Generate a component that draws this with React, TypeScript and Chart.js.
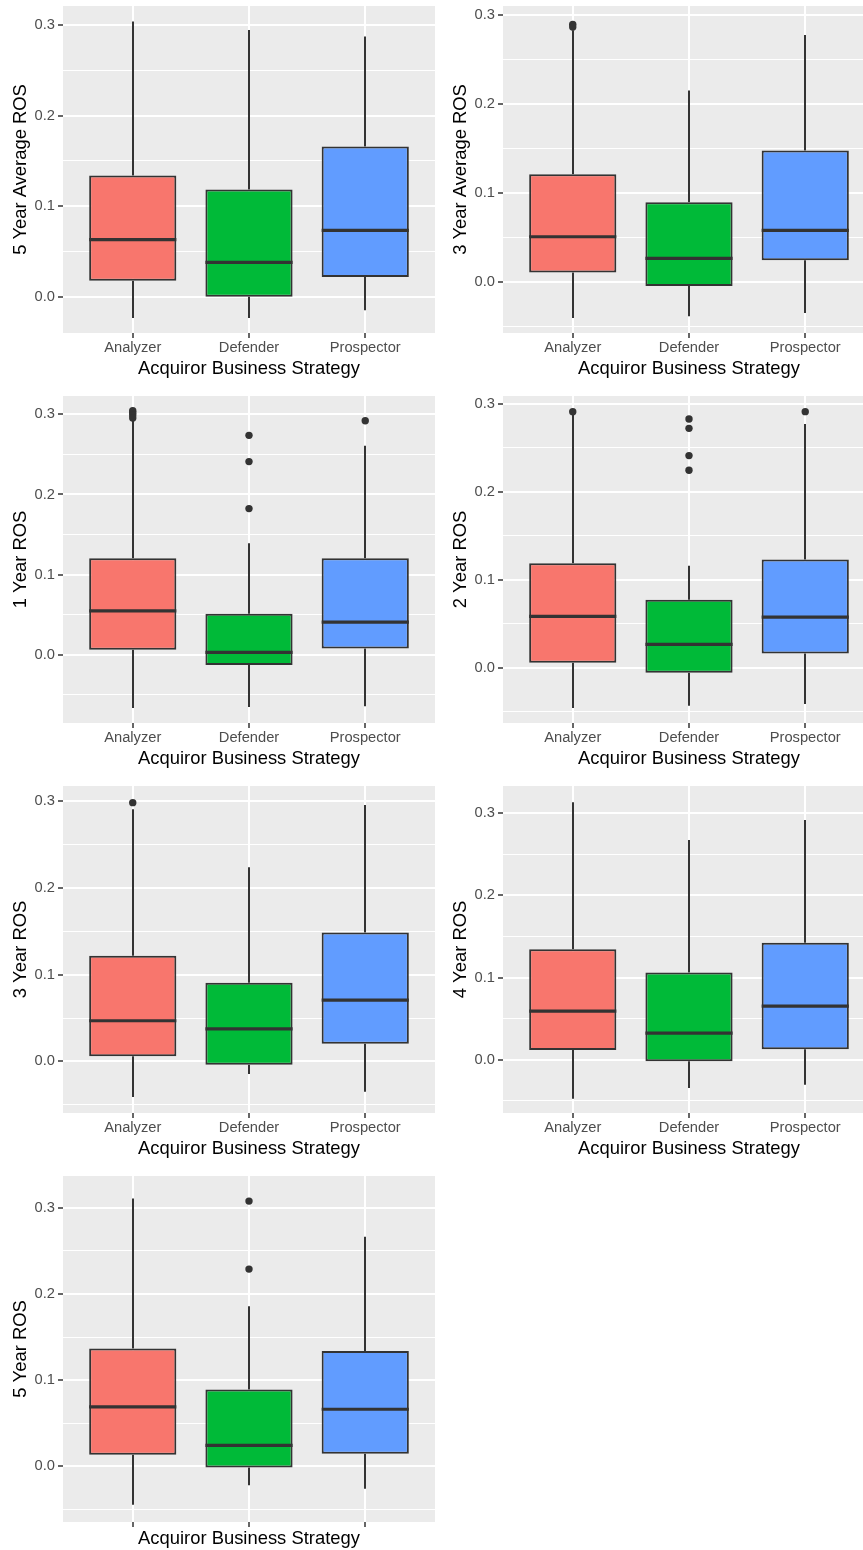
import React, { useEffect, useRef } from 'react';
import { Chart, registerables } from 'chart.js';

Chart.register(...registerables);

// ---------- data ----------
const categories = ['Analyzer', 'Defender', 'Prospector'];
const fillColors = ['#F8766D', '#00BA38', '#619CFF'];
const yGridValues = [-0.1, -0.05, 0, 0.05, 0.1, 0.15, 0.2, 0.25, 0.3, 0.35];
const xTitle = 'Acquiror Business Strategy';

// five-number summaries per category: [lower whisker, Q1, median, Q3, upper whisker]
const avg5Ros = [
  [-0.0231, 0.018, 0.0632, 0.134, 0.3037],
  [-0.0231, 0.0004, 0.0382, 0.1186, 0.2945],
  [-0.0147, 0.022, 0.0734, 0.166, 0.2872],
];
const avg5Outliers = [[], [], []];
const avg5Limits = [-0.0397, 0.3209];

const avg3Ros = [
  [-0.04, 0.0112, 0.0512, 0.1214, 0.283],
  [-0.0381, -0.0041, 0.0269, 0.09, 0.2152],
  [-0.0344, 0.0247, 0.0583, 0.1479, 0.2776],
];
const avg3Outliers = [[0.2895, 0.2865], [], []];
const avg3Limits = [-0.0568, 0.3101];

const ros1 = [
  [-0.0665, 0.0062, 0.0548, 0.1205, 0.2929],
  [-0.0652, -0.0129, 0.0029, 0.0511, 0.1392],
  [-0.0644, 0.0079, 0.0407, 0.1205, 0.2609],
];
const ros1Outliers = [[0.3045, 0.302, 0.2992, 0.2955], [0.2738, 0.241, 0.1824], [0.2921]];
const ros1Limits = [-0.0852, 0.3229];

const ros2 = [
  [-0.0458, 0.0057, 0.0583, 0.1189, 0.2875],
  [-0.0432, -0.0057, 0.0265, 0.0773, 0.1159],
  [-0.0413, 0.0163, 0.0576, 0.1231, 0.2773],
];
const ros2Outliers = [[0.2913], [0.283, 0.2723, 0.2413, 0.2246], [0.2913]];
const ros2Limits = [-0.0629, 0.3091];

const ros3 = [
  [-0.0411, 0.0061, 0.0469, 0.1218, 0.2908],
  [-0.0146, -0.0038, 0.0376, 0.0907, 0.224],
  [-0.035, 0.0204, 0.0707, 0.1487, 0.2958],
];
const ros3Outliers = [[0.2985], [], []];
const ros3Limits = [-0.0595, 0.3177];

const ros4 = [
  [-0.0474, 0.0118, 0.0592, 0.1346, 0.3134],
  [-0.0345, -0.002, 0.0324, 0.1062, 0.2676],
  [-0.0304, 0.0126, 0.0653, 0.1423, 0.2919],
];
const ros4Outliers = [[], [], []];
const ros4Limits = [-0.0649, 0.3332];

const ros5 = [
  [-0.0445, 0.0135, 0.0689, 0.1367, 0.3108],
  [-0.0221, -0.0015, 0.0244, 0.089, 0.1858],
  [-0.0259, 0.0147, 0.0662, 0.1339, 0.2663],
];
const ros5Outliers = [[], [0.3077, 0.2288], []];
const ros5Limits = [-0.0646, 0.3368];

// ---------- layout ----------
const FONT = '"Liberation Sans", Arial, Helvetica, sans-serif';
const INK = '#333333';

type PanelDef = {
  label: string;
  stats: number[][];
  outliers: number[][];
  limits: number[];
  left: number;
  top: number;
  height: number;
  xHeight: number;
  xTitlePad: number;
  showXLabels: boolean;
};

const PANEL_W = 440;

const panels: PanelDef[] = [
  { label: '5 Year Average ROS', stats: avg5Ros, outliers: avg5Outliers, limits: avg5Limits, left: 0, top: 0, height: 390, xHeight: 57, xTitlePad: 10.5, showXLabels: true },
  { label: '3 Year Average ROS', stats: avg3Ros, outliers: avg3Outliers, limits: avg3Limits, left: 440, top: 0, height: 390, xHeight: 57, xTitlePad: 10.5, showXLabels: true },
  { label: '1 Year ROS', stats: ros1, outliers: ros1Outliers, limits: ros1Limits, left: 0, top: 390, height: 390, xHeight: 57, xTitlePad: 10.5, showXLabels: true },
  { label: '2 Year ROS', stats: ros2, outliers: ros2Outliers, limits: ros2Limits, left: 440, top: 390, height: 390, xHeight: 57, xTitlePad: 10.5, showXLabels: true },
  { label: '3 Year ROS', stats: ros3, outliers: ros3Outliers, limits: ros3Limits, left: 0, top: 780, height: 390, xHeight: 57, xTitlePad: 10.5, showXLabels: true },
  { label: '4 Year ROS', stats: ros4, outliers: ros4Outliers, limits: ros4Limits, left: 440, top: 780, height: 390, xHeight: 57, xTitlePad: 10.5, showXLabels: true },
  { label: '5 Year ROS', stats: ros5, outliers: ros5Outliers, limits: ros5Limits, left: 0, top: 1170, height: 380, xHeight: 28, xTitlePad: 0.5, showXLabels: false },
];

const isMajor = (v: number) => Math.abs(v * 10 - Math.round(v * 10)) < 1e-6;

function BoxPanel({ def }: { def: PanelDef }) {
  const ref = useRef<HTMLCanvasElement | null>(null);

  useEffect(() => {
    const canvas = ref.current;
    if (!canvas) return;
    const [yMin, yMax] = def.limits;

    const boxPlugin = {
      id: 'boxplotParts',
      beforeDraw(chart: any) {
        const { ctx, chartArea } = chart;
        ctx.save();
        ctx.fillStyle = '#EBEBEB';
        ctx.fillRect(chartArea.left, chartArea.top, chartArea.right - chartArea.left, chartArea.bottom - chartArea.top);
        ctx.restore();
      },
      beforeDatasetsDraw(chart: any) {
        const { ctx } = chart;
        const xs = chart.scales.x;
        const ys = chart.scales.y;
        ctx.save();
        ctx.strokeStyle = INK;
        ctx.lineWidth = 2;
        def.stats.forEach((s, i) => {
          const px = Math.round(xs.getPixelForValue(i + 1));
          ctx.beginPath();
          ctx.moveTo(px, ys.getPixelForValue(s[3]));
          ctx.lineTo(px, ys.getPixelForValue(s[4]));
          ctx.moveTo(px, ys.getPixelForValue(s[1]));
          ctx.lineTo(px, ys.getPixelForValue(s[0]));
          ctx.stroke();
        });
        ctx.restore();
      },
      afterDatasetsDraw(chart: any) {
        const { ctx } = chart;
        const ys = chart.scales.y;
        const meta = chart.getDatasetMeta(0);
        ctx.save();
        ctx.strokeStyle = INK;
        ctx.lineWidth = 3.2;
        def.stats.forEach((s, i) => {
          const el = meta.data[i];
          if (!el) return;
          const half = el.width / 2;
          const py = ys.getPixelForValue(s[2]);
          ctx.beginPath();
          ctx.moveTo(el.x - half, py);
          ctx.lineTo(el.x + half, py);
          ctx.stroke();
        });
        ctx.restore();
      },
    };

    const outlierPoints: { x: number; y: number }[] = [];
    def.outliers.forEach((arr, i) => arr.forEach((v) => outlierPoints.push({ x: i + 1, y: v })));

    const chart = new Chart(canvas, {
      type: 'bar',
      data: {
        datasets: [
          {
            type: 'bar',
            data: def.stats.map((s, i) => ({ x: i + 1, y: [s[1], s[3]] })) as any,
            backgroundColor: fillColors,
            borderColor: INK,
            borderWidth: 2,
            borderSkipped: false,
            barPercentage: 0.75,
            categoryPercentage: 1,
            grouped: false,
          } as any,
          {
            type: 'scatter',
            data: outlierPoints as any,
            pointRadius: 3.7,
            pointHoverRadius: 3.7,
            backgroundColor: INK,
            borderColor: INK,
            borderWidth: 0,
          } as any,
        ],
      },
      options: {
        animation: false,
        responsive: false,
        maintainAspectRatio: false,
        events: [],
        layout: { padding: { top: 6, left: 0, right: 5, bottom: 0 } },
        plugins: { legend: { display: false }, tooltip: { enabled: false } },
        scales: {
          x: {
            type: 'linear',
            min: 0.4,
            max: 3.6,
            offset: false,
            afterBuildTicks: (s: any) => {
              s.ticks = categories.map((_, i) => ({ value: i + 1 }));
            },
            afterFit: (s: any) => {
              s.height = def.xHeight;
              s.paddingLeft = 0;
              s.paddingRight = 0;
            },
            ticks: {
              autoSkip: false,
              maxRotation: 0,
              padding: 1,
              color: '#4D4D4D',
              font: { family: FONT, size: 14.7 },
              callback: (v: any) => (def.showXLabels ? categories[Math.round(Number(v)) - 1] ?? '' : ''),
            },
            grid: {
              color: '#FFFFFF',
              lineWidth: 2,
              offset: false,
              drawTicks: true,
              tickLength: 5,
              tickColor: INK,
              tickWidth: 1.5,
            },
            border: { display: false },
            title: {
              display: true,
              text: xTitle,
              color: '#000000',
              font: { family: FONT, size: 18.4 },
              padding: { top: 0, bottom: def.xTitlePad },
            },
          } as any,
          y: {
            type: 'linear',
            min: yMin,
            max: yMax,
            afterBuildTicks: (s: any) => {
              s.ticks = yGridValues.filter((v) => v >= yMin && v <= yMax).map((v) => ({ value: v }));
            },
            afterFit: (s: any) => {
              s.width = 63;
              s.paddingTop = 0;
              s.paddingBottom = 0;
            },
            ticks: {
              padding: 3,
              color: '#4D4D4D',
              font: { family: FONT, size: 14.7 },
              callback: (v: any) => (isMajor(Number(v)) ? Number(v).toFixed(1) : ''),
            },
            grid: {
              color: '#FFFFFF',
              lineWidth: (c: any) => (c.tick && isMajor(c.tick.value) ? 2 : 1),
              drawTicks: true,
              tickLength: 5,
              tickWidth: 1.5,
              tickColor: (c: any) => (c.tick && isMajor(c.tick.value) ? INK : 'rgba(0,0,0,0)'),
            },
            border: { display: false },
            title: {
              display: true,
              text: def.label,
              color: '#000000',
              font: { family: FONT, size: 18.4 },
              padding: { top: 9.5, bottom: 0 },
            },
          } as any,
        },
      },
      plugins: [boxPlugin],
    });

    return () => chart.destroy();
  }, [def]);

  return (
    <canvas
      ref={ref}
      width={PANEL_W}
      height={def.height}
      style={{ position: 'absolute', left: def.left, top: def.top, width: PANEL_W, height: def.height, display: 'block' }}
    />
  );
}

export default function App() {
  return (
    <div
      style={{
        position: 'absolute',
        left: 0,
        top: 0,
        width: 863,
        height: 1550,
        overflow: 'hidden',
        background: '#FFFFFF',
      }}
    >
      {panels.map((p) => (
        <BoxPanel key={p.label} def={p} />
      ))}
    </div>
  );
}
